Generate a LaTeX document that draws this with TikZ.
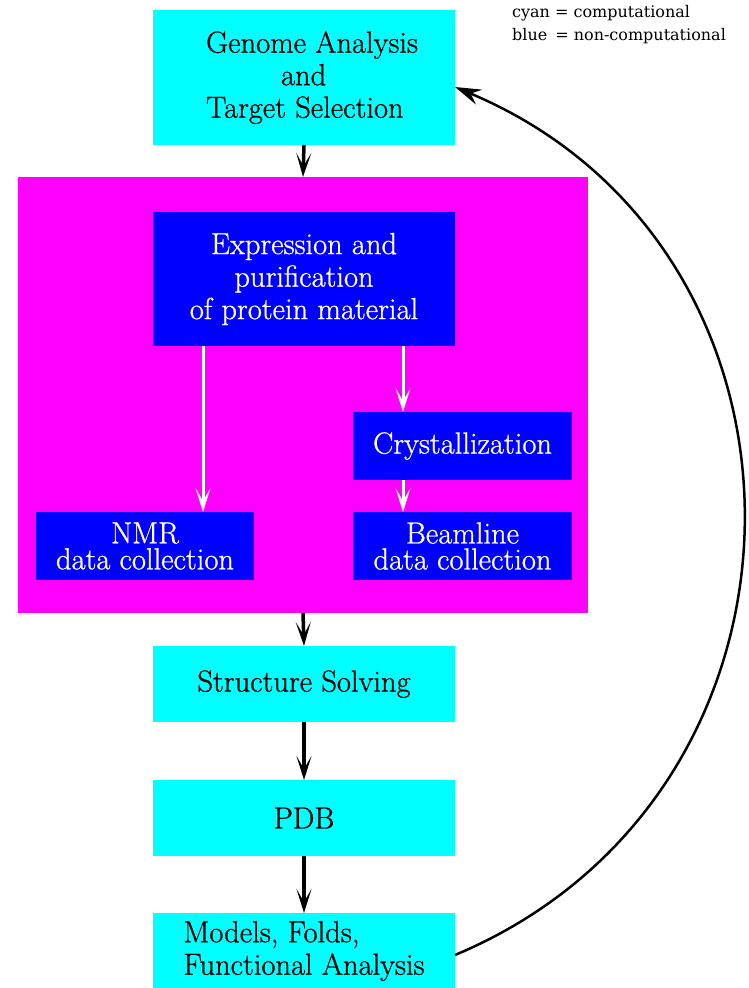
\documentclass[tikz,border=0pt]{standalone}
\usepackage{fontspec}
\newfontfamily\legendfont{DejaVu Serif}
\newfontfamily\boxfont[FakeBold=0.8]{Latin Modern Roman}
\usetikzlibrary{arrows.meta}
\definecolor{compcyan}{RGB}{0,255,255}
\definecolor{labmagenta}{RGB}{255,0,255}
\definecolor{labblue}{RGB}{0,0,255}
\tikzset{
  box/.style={rectangle, inner sep=0pt, outer sep=0pt, font=\boxfont\fontsize{30.5}{32.5}\selectfont},
  compbox/.style={box, fill=compcyan, text=black, minimum width=302pt},
  labbox/.style={box, fill=labblue, text=white},
  blk/.style={draw=black, line width=3.5pt, -{Stealth[length=24pt, width=15pt, inset=13pt]}},
  wht/.style={draw=white, line width=3pt, -{Stealth[length=24pt, width=15pt, inset=13pt]}},
  loop/.style={draw=black, line width=2.5pt, -{Stealth[length=26pt, width=16pt, inset=9pt]}},
  legend/.style={anchor=base west, inner sep=0pt, font=\legendfont\fontsize{16}{18}\selectfont}
}
\begin{document}
\begin{tikzpicture}[x=1pt, y=-1pt]
\useasboundingbox (0,0) rectangle (748,988);

% wet-lab stage
\node[box, fill=labmagenta, minimum width=570pt, minimum height=436pt] (mag) at (303,395) {};

% computational stages
\node[compbox, minimum height=135pt, align=left] (gen) at (304,77.5)
  {\hspace*{16pt}Genome Analysis\\\hspace*{91pt}and\\\hspace*{16pt}Target Selection};
\node[compbox, minimum height=76pt] (solve) at (304,684) {Structure Solving};
\node[compbox, minimum height=76pt] (pdb) at (304,818) {PDB};
\node[compbox, minimum height=76pt, align=left] (models) at (304,951)
  {Models, Folds,\\Functional Analysis};

% experimental stages
\node[labbox, minimum width=302pt, minimum height=134pt, align=center] (expr) at (304,279)
  {Expression and\\purification\\of protein material};
\node[labbox, minimum width=218pt, minimum height=68pt, align=center,
      font=\boxfont\fontsize{30.5}{26}\selectfont] (nmr) at (145,546)
  {NMR\\data collection};
\node[labbox, minimum width=219pt, minimum height=68pt] (cryst) at (462.5,446) {Crystallization};
\node[labbox, minimum width=219pt, minimum height=68pt, align=center,
      font=\boxfont\fontsize{30.5}{26}\selectfont] (beam) at (462.5,546)
  {Beamline\\data collection};

% legend
\node[legend] (leg1) at (512,17) {cyan = computational};
\node[legend] (leg2) at (512,40) {blue\hspace{8pt}= non-computational};

% main flow
\draw[blk] (gen.south) -- (mag.north);
\draw[wht] ([xshift=-101pt]expr.south) -- ([xshift=-101pt]expr.south |- nmr.north);
\draw[wht] ([xshift=99pt]expr.south) -- ([xshift=99pt]expr.south |- cryst.north);
\draw[wht] ([xshift=-59.5pt]cryst.south) -- ([xshift=-59.5pt]beam.north);
\draw[blk] (mag.south) -- (solve.north);
\draw[blk] (solve.south) -- (pdb.north);
\draw[blk] (pdb.south) -- (models.north);

% feedback loop
\draw[loop] ([yshift=-4pt]models.east) .. controls +(384,-161) and +(384,161) .. ([yshift=-9.5pt]gen.east);
\end{tikzpicture}
\end{document}
